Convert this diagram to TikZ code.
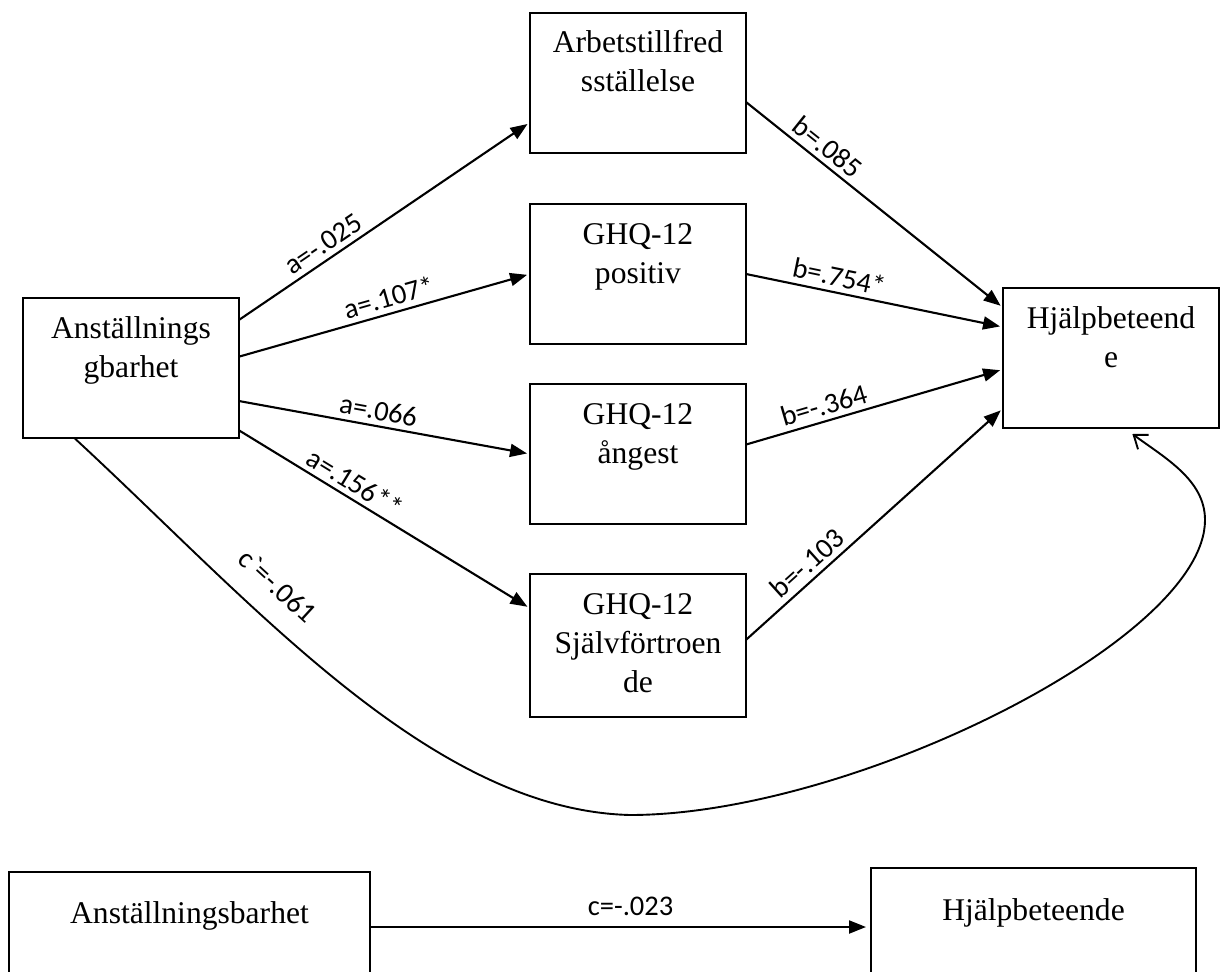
\documentclass[tikz,border=0pt]{standalone}
\usepackage{fontspec}
\setmainfont{Liberation Serif}
\newfontfamily\labfont{Carlito}
\usetikzlibrary{positioning,arrows.meta,calc}

\begin{document}
\begin{tikzpicture}[
  x=1pt, y=-1pt,
  font=\fontsize{31.6pt}{39pt}\selectfont,
  var/.style={draw,line width=2.3pt,align=center,inner sep=0pt,outer sep=0pt,
    minimum width=216pt,text height=79pt,text depth=61pt},
  eff/.style={-{Triangle[length=17pt,width=13pt]},line width=2.1pt,shorten >=3pt},
  coef/.style={font=\labfont\fontsize{28.5pt}{30pt}\selectfont,sloped,above,inner sep=5pt},
]
  \useasboundingbox (0,0) rectangle (1222,971);
  \clip (0,0) rectangle (1222,971);

  % indirect model
  \node[var,anchor=north] (anst) at (131,298) {Anställnings\\gbarhet};
  \node[var,anchor=north] (arbets) at (638,13) {Arbetstillfred\\sställelse};
  \node[var,below=51pt of arbets] (positiv) {GHQ-12\\positiv};
  \node[var,below=40pt of positiv] (angest) {GHQ-12\\ångest};
  \node[var,below=50pt of angest,text height=118pt,text depth=25pt] (sjalv) {GHQ-12\\Självförtroen\\de};
  \node[var,anchor=north] (hjalp) at (1111,288) {Hjälpbeteend\\e};

  \draw[eff] (anst.24) -- node[coef,pos=0.32] {a=-.025} (arbets.200);
  \draw[eff] (anst.6) -- node[coef,pos=0.53] {a=.107*} (positiv.west);
  \draw[eff] (anst.-17) -- node[coef,pos=0.47] {a=.066} (angest.west);
  \draw[eff] (anst.-30) -- node[coef,pos=0.37] {a=.156**} (sjalv.161);
  \draw[eff] (arbets.-10) -- node[coef,pos=0.28] {b=.085} (hjalp.155);
  \draw[eff] (positiv.east) -- node[coef,pos=0.35] {b=.754*} (hjalp.164);
  \draw[eff] (angest.5) -- node[coef,pos=0.32] {b=-.364} (hjalp.186);
  \draw[eff] (sjalv.3) -- node[coef,pos=0.28] {b=-.103} (hjalp.205);

  \draw[line width=1.9pt,-{Straight Barb[length=12pt,width=18pt]}]
    (anst.-129) .. controls (250,600) and (430,810) .. (630,815)
      node[coef,pos=0.34,above=17pt] {c\symbol{96}=-.061}
    .. controls (850,815) and (1205,640) .. (1205,520)
    .. controls (1205,480) and (1165,458) .. ([yshift=-6pt]hjalp.-73);

  % total effect
  \node[var,anchor=north,minimum width=361pt,text height=51pt,text depth=59pt] (anst2) at (189.5,872) {Anställningsbarhet};
  \node[var,anchor=north,minimum width=325pt,text height=52pt,text depth=66pt] (hjalp2) at (1033.5,868) {Hjälpbeteende};
  \draw[eff,shorten >=5pt] (anst2.east) -- node[coef,pos=0.52,inner sep=10pt] {c=-.023} (hjalp2.west);
\end{tikzpicture}
\end{document}
